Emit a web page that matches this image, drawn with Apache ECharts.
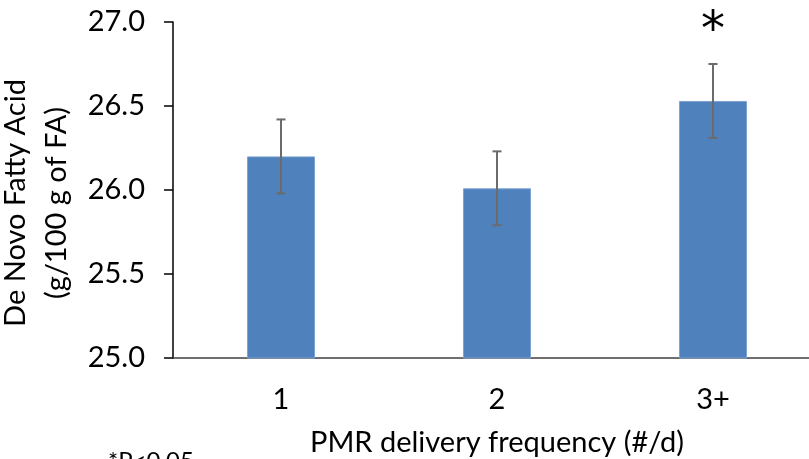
<!DOCTYPE html>
<html>
<head>
<meta charset="utf-8">
<script src="https://cdn.jsdelivr.net/npm/echarts@6/dist/echarts.min.js"></script>
<style>
  html, body { margin: 0; padding: 0; background: #fff; }
  #chart { width: 809px; height: 459px; }
</style>
</head>
<body>
<div id="chart"></div>
<script>
// data
const categories = ['1', '2', '3+']
const means = [26.20, 26.01, 26.53]
const errLow = [25.98, 25.79, 26.31]
const errHigh = [26.42, 26.23, 26.75]
const marks = ['', '', '*']
const yTicks = [25.0, 25.5, 26.0, 26.5, 27.0]

const font = 'Lato, "Open Sans", sans-serif'
const chart = echarts.init(document.getElementById('chart'), null, { renderer: 'canvas' })

const option = {
  backgroundColor: '#fff',
  animation: false,
  grid: { left: 173, top: 22, width: 648, height: 336, containLabel: false, outerBoundsMode: 'none' },
  xAxis: {
    type: 'category',
    data: categories,
    name: 'PMR delivery frequency (#/d)',
    nameLocation: 'middle',
    nameGap: 70,
    nameTextStyle: { fontFamily: font, fontSize: 29, color: '#000' },
    axisLine: { lineStyle: { color: '#404040', width: 1.5 } },
    axisTick: { show: false },
    axisLabel: { fontFamily: font, fontSize: 29, color: '#000', margin: 27 }
  },
  yAxis: {
    type: 'value',
    min: yTicks[0],
    max: yTicks[yTicks.length - 1],
    interval: 0.5,
    name: 'De Novo Fatty Acid\n(g/100 g of FA)',
    nameLocation: 'middle',
    nameRotate: 90,
    nameGap: 70,
    nameTextStyle: { fontFamily: font, fontSize: 29, color: '#000', lineHeight: 41, padding: [0, 26, 0, 0] },
    splitLine: { show: false },
    axisLine: { show: true, lineStyle: { color: '#000', width: 1.5 } },
    axisTick: { show: true, length: 9, lineStyle: { color: '#000', width: 1.5 } },
    axisLabel: {
      fontFamily: font, fontSize: 29, color: '#000', margin: 28,
      formatter: v => v.toFixed(1)
    }
  },
  series: [
    {
      type: 'bar',
      data: means,
      barWidth: '31.5%',
      itemStyle: { color: '#4F81BD', borderColor: '#7ea3d2', borderWidth: 1 }
    },
    {
      type: 'custom',
      data: categories.map((c, i) => [i, errLow[i], errHigh[i]]),
      z: 5,
      renderItem: function (params, api) {
        const i = api.value(0)
        const lo = api.coord([i, api.value(1)])
        const hi = api.coord([i, api.value(2)])
        const cap = 4.5
        const style = { stroke: '#6b6b6b', lineWidth: 2 }
        const children = [
          { type: 'line', shape: { x1: hi[0], y1: hi[1], x2: lo[0], y2: lo[1] }, style },
          { type: 'line', shape: { x1: hi[0] - cap, y1: hi[1], x2: hi[0] + cap, y2: hi[1] }, style },
          { type: 'line', shape: { x1: lo[0] - cap, y1: lo[1], x2: lo[0] + cap, y2: lo[1] }, style }
        ]
        if (marks[i]) {
          children.push({
            type: 'text',
            style: {
              text: marks[i], x: hi[0], y: hi[1] - 31,
              fill: '#000', font: '48px "DejaVu Sans", sans-serif',
              textAlign: 'center', textVerticalAlign: 'middle'
            }
          })
        }
        return { type: 'group', children }
      }
    }
  ],
  graphic: [
    {
      type: 'text',
      left: 108,
      top: 449,
      style: { text: '*P<0.05', fill: '#000', font: '24px ' + font }
    }
  ]
}

chart.setOption(option)
</script>
</body>
</html>
